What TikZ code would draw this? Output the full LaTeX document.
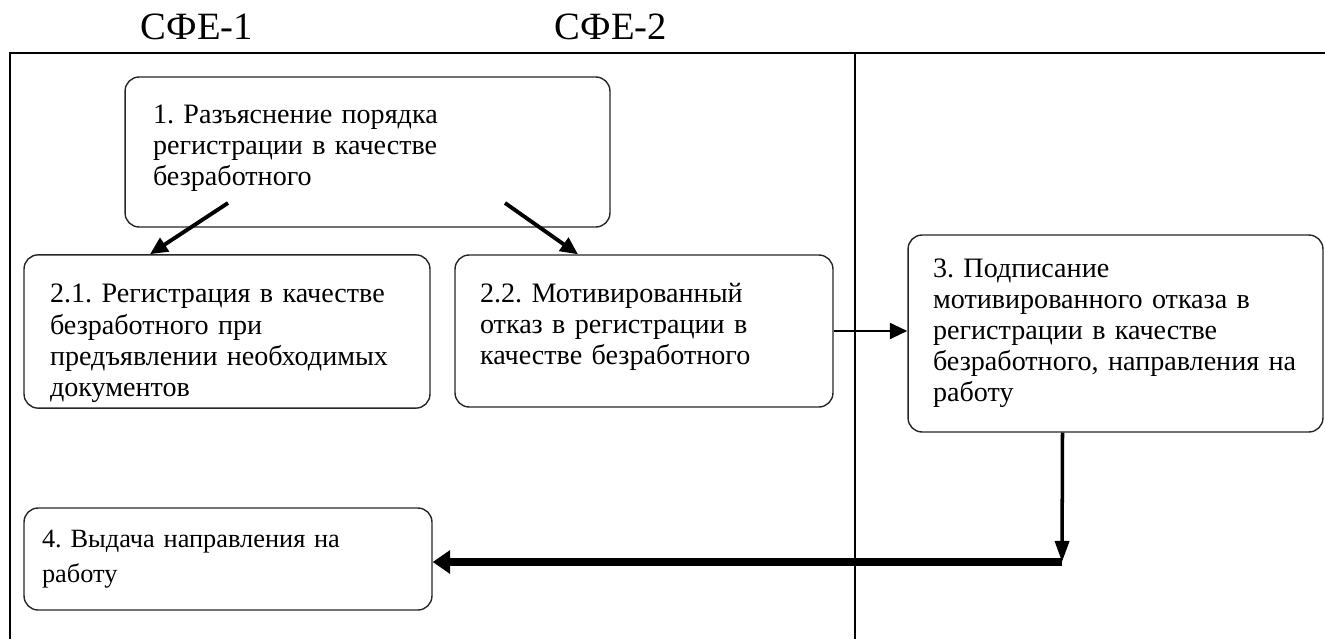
\documentclass[tikz,border=0pt]{standalone}
\usepackage{fontspec}
\setmainfont{Liberation Serif}
\usetikzlibrary{positioning, arrows.meta, calc}
\frenchspacing

\begin{document}
\begin{tikzpicture}[x=0.02cm, y=-0.02cm,
    stage/.style={rectangle, draw=black!85, line width=0.8pt, rounded corners=8pt, align=left, font=\fontsize{16}{17.7}\selectfont},
    lane/.style={line width=1.1pt},
    title/.style={font=\fontsize{22}{26}\selectfont},
    arrow/.style={-{Triangle[length=10pt, width=9pt]}, line width=2.2pt}
]
\useasboundingbox (0,0) rectangle (1325,639);

% swim lanes
\draw[lane] (10,639) -- (10,53) -- (1325,53);
\draw[line width=0.8pt] (855,53) -- (855,639);

\node[title] (sfe1) at (197,27) {СФЕ-1};
\node[title] (sfe2) at (611,27) {СФЕ-2};

\node[stage, inner xsep=0.56cm, text width=8.58cm, minimum height=3cm] (s1) at (367.5,152) {1. Разъяснение порядка\\регистрации в качестве\\безработного\rule[-8pt]{0pt}{0pt}};
\node[stage, inner xsep=0.52cm, text width=7.08cm, minimum height=3.06cm] (s21) at (227,331.5) {\rule{0pt}{24pt}2.1. Регистрация в качестве\\безработного при\\предъявлении необходимых\\документов};
\node[stage, inner xsep=0.5cm, text width=6.56cm, minimum height=3.04cm] (s22) at (644,331) {2.2. Мотивированный\\отказ в регистрации в\\качестве безработного\rule[-8pt]{0pt}{0pt}};
\node[stage, inner xsep=0.5cm, text width=7.3cm, minimum height=3.94cm] (s3) at (1115.5,333.5) {3. Подписание\\мотивированного отказа в\\регистрации в качестве\\безработного, направления на\\работу};
\node[stage, inner xsep=0.36cm, text width=7.44cm, minimum height=2.04cm, font=\fontsize{15}{19.8}\selectfont] (s4) at (228,559) {4. Выдача направления на\\работу};

\coordinate (a1) at (228,203);
\coordinate (a2) at (505,203);
\coordinate (a3) at (1062,562);

\draw[arrow] (a1) -- ($(s21.north)+(-77,0)$);
\draw[arrow] (a2) -- ($(s22.north)+(-66,0)$);
\draw[arrow, line width=1.7pt] (s22.east) -- (s22.east -| s3.west);
\draw[arrow, -{Triangle[length=12pt, width=8pt]}, line width=2pt] ($(s3.south)+(-53,0)$) -- (a3);
\draw[arrow, -{Triangle[length=10pt, width=13pt]}, line width=4pt] (a3) -- (a3 -| s4.east);

\end{tikzpicture}
\end{document}
